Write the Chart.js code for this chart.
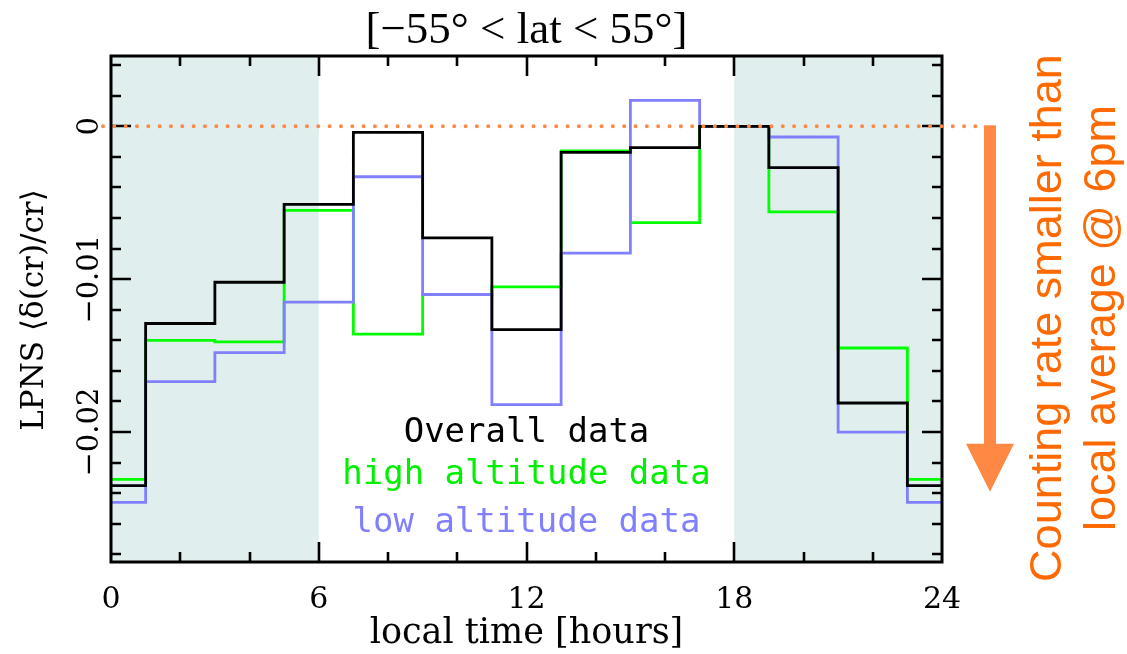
<!DOCTYPE html>
<html>
<head>
<meta charset="utf-8">
<script src="https://cdn.jsdelivr.net/npm/chart.js@4/dist/chart.umd.min.js"></script>
<style>
html,body{margin:0;padding:0;background:#fff;}
canvas{display:block;}
</style>
</head>
<body>
<canvas id="c" width="1127" height="654"></canvas>
<script>
// Bin centres (local time, hours); each bin is 2 h wide, bin 0 wraps 23h-1h
const hours = [0, 2, 4, 6, 8, 10, 12, 14, 16, 18, 20, 22];
const overall = [-0.0235, -0.0129, -0.0102, -0.0051, -0.0004, -0.0073, -0.0133, -0.0017, -0.0014, 0, -0.0027, -0.0181];
const highAlt = [-0.0231, -0.0140, -0.0141, -0.0055, -0.0136, -0.0110, -0.0105, -0.0016, -0.0063, 0, -0.0056, -0.0145];
const lowAlt  = [-0.0246, -0.0167, -0.0148, -0.0115, -0.0033, -0.0110, -0.0182, -0.0083, 0.0017, 0, -0.0007, -0.0200];
const xTickLabels = ['0', '6', '12', '18', '24'];
const yTickLabels = ['0', '\u22120.01', '\u22120.02'];
const yTickValues = [0, -0.01, -0.02];
const seriesNames = ['Overall data', 'high altitude data', 'low altitude data'];
const nightBands = [[0, 6], [18, 24]];

function stepPoints(vals) {
  const pts = [{x: 0, y: vals[0]}];
  for (let i = 1; i < hours.length; i++) pts.push({x: hours[i] - 1, y: vals[i]});
  pts.push({x: 23, y: vals[0]});
  pts.push({x: 24, y: vals[0]});
  return pts;
}

const COL_BLACK = '#000000', COL_GREEN = '#00ff00', COL_BLUE = '#8080ff';
const ORANGE = '#ff8844', ORANGE_TXT = '#ff6a00';

const deco = {
  id: 'deco',
  beforeDatasetsDraw(chart) {
    const {ctx, chartArea: a, scales: {x, y}} = chart;
    ctx.save();
    ctx.fillStyle = '#e0eeed';
    nightBands.forEach(b => {
      const x0 = x.getPixelForValue(b[0]), x1 = x.getPixelForValue(b[1]);
      ctx.fillRect(x0, a.top, x1 - x0, a.bottom - a.top);
    });
    ctx.restore();
  },
  afterDatasetsDraw(chart) {
    const {ctx, chartArea: a, scales: {x, y}} = chart;
    ctx.save();
    // frame
    ctx.strokeStyle = '#000';
    ctx.lineWidth = 3;
    ctx.strokeRect(a.left, a.top, a.right - a.left, a.bottom - a.top);
    // x ticks
    ctx.lineWidth = 2.6;
    ctx.beginPath();
    for (let h = 2; h < 24; h += 2) {
      const px = Math.round(x.getPixelForValue(h));
      const len = (h % 6 === 0) ? 20 : 10;
      ctx.moveTo(px, a.bottom); ctx.lineTo(px, a.bottom - len);
      ctx.moveTo(px, a.top); ctx.lineTo(px, a.top + len);
    }
    // y ticks
    for (let k = -14; k <= 2; k++) {
      const v = k * 0.002;
      const py = Math.round(y.getPixelForValue(v));
      const len = (k % 5 === 0) ? 20 : 10;
      ctx.moveTo(a.left, py); ctx.lineTo(a.left + len, py);
      ctx.moveTo(a.right, py); ctx.lineTo(a.right - len, py);
    }
    ctx.stroke();

    // x tick labels
    ctx.fillStyle = '#000';
    ctx.font = '30px "DejaVu Serif"';
    ctx.textAlign = 'center';
    ctx.textBaseline = 'alphabetic';
    xTickLabels.forEach(t => {
      ctx.fillText(t, x.getPixelForValue(parseFloat(t)), 608);
    });
    // x title
    ctx.font = '35px "DejaVu Serif"';
    ctx.fillText('local time [hours]', x.getPixelForValue(12), 643);

    // y tick labels (rotated)
    ctx.font = '29px "DejaVu Serif"';
    yTickLabels.forEach((t, i) => {
      ctx.save();
      ctx.translate(98, y.getPixelForValue(yTickValues[i]));
      ctx.rotate(-Math.PI / 2);
      ctx.textAlign = 'center';
      ctx.fillText(t, 0, 0);
      ctx.restore();
    });
    // y title
    ctx.save();
    ctx.translate(43, 310);
    ctx.rotate(-Math.PI / 2);
    ctx.font = '31px "DejaVu Serif"';
    ctx.textAlign = 'center';
    ctx.fillText('LPNS \u27E8\u03B4(cr)/cr\u27E9', 0, 0);
    ctx.restore();

    // title
    ctx.font = '45px "Liberation Serif"';
    ctx.textAlign = 'center';
    ctx.fillText('[\u221255\u00B0 < lat < 55\u00B0]', x.getPixelForValue(12), 43);

    // legend text
    ctx.font = '34px "DejaVu Sans Mono"';
    const cols = [COL_BLACK, '#00f000', COL_BLUE];
    const bl = [442, 484, 532];
    seriesNames.forEach((s, i) => {
      ctx.fillStyle = cols[i];
      ctx.fillText(s, x.getPixelForValue(12), bl[i]);
    });

    // dotted zero line
    const y0 = y.getPixelForValue(0);
    ctx.strokeStyle = ORANGE;
    ctx.lineWidth = 4;
    ctx.lineCap = 'round';
    ctx.setLineDash([0, 11.33]);
    ctx.beginPath();
    ctx.moveTo(a.left - 8, y0);
    ctx.lineTo(983, y0);
    ctx.stroke();
    ctx.setLineDash([]);

    // arrow
    const ax = 990;
    const tip = y.getPixelForValue(-0.0239);
    ctx.fillStyle = ORANGE;
    ctx.fillRect(ax - 6, y0 - 1, 12, tip - 48 - y0 + 2);
    ctx.beginPath();
    ctx.moveTo(ax - 24, tip - 48);
    ctx.lineTo(ax + 24, tip - 48);
    ctx.lineTo(ax, tip);
    ctx.closePath();
    ctx.fill();

    // orange rotated text
    ctx.fillStyle = ORANGE_TXT;
    ctx.font = '45px "Liberation Sans"';
    ctx.textAlign = 'center';
    [[1061, 'Counting rate smaller than'], [1115, 'local average @ 6pm']].forEach(([bx, t]) => {
      ctx.save();
      ctx.translate(bx, 318);
      ctx.rotate(-Math.PI / 2);
      ctx.fillText(t, 0, 0);
      ctx.restore();
    });
    ctx.restore();
  }
};

new Chart(document.getElementById('c'), {
  type: 'line',
  data: {
    datasets: [
      {label: seriesNames[0], data: stepPoints(overall), borderColor: COL_BLACK},
      {label: seriesNames[2], data: stepPoints(lowAlt), borderColor: COL_BLUE},
      {label: seriesNames[1], data: stepPoints(highAlt), borderColor: COL_GREEN}
    ]
  },
  options: {
    responsive: false,
    animation: false,
    devicePixelRatio: 1,
    layout: {padding: {left: 111, right: 185, top: 56, bottom: 92}},
    elements: {
      point: {radius: 0, hoverRadius: 0},
      line: {borderWidth: 2.8, stepped: true, fill: false, tension: 0}
    },
    scales: {
      x: {type: 'linear', min: 0, max: 24, display: false},
      y: {type: 'linear', min: -0.0285, max: 0.0046, display: false}
    },
    plugins: {legend: {display: false}, tooltip: {enabled: false}}
  },
  plugins: [deco]
});
</script>
</body>
</html>
